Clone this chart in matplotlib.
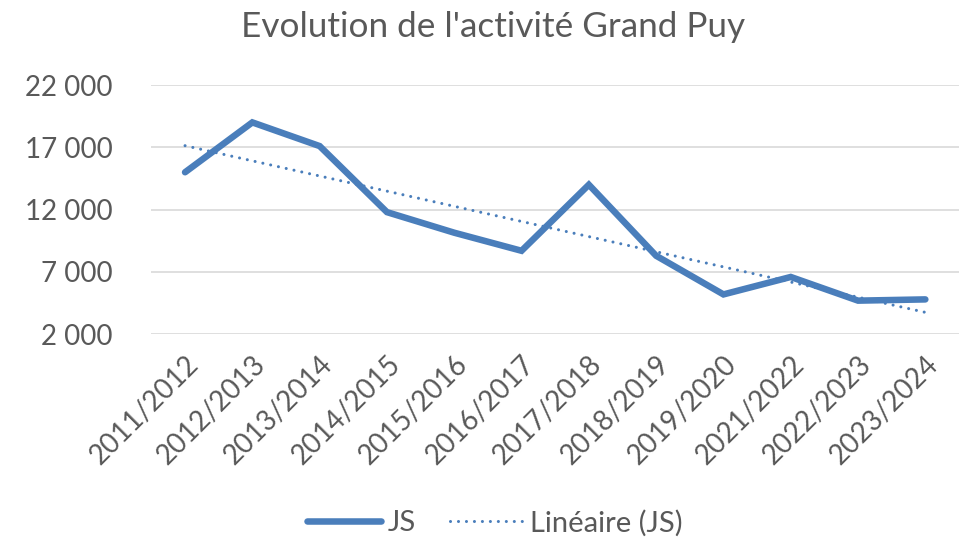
import matplotlib
matplotlib.use("Agg")
import matplotlib.pyplot as plt
import numpy as np
from matplotlib.ticker import FuncFormatter
from matplotlib.lines import Line2D

seasons = ["2011/2012", "2012/2013", "2013/2014", "2014/2015", "2015/2016", "2016/2017",
           "2017/2018", "2018/2019", "2019/2020", "2021/2022", "2022/2023", "2023/2024"]
js_values = [15000, 19000, 17100, 11800, 10150, 8700, 14000, 8300, 5200, 6600, 4700, 4800]
y_ticks = [2000, 7000, 12000, 17000, 22000]

plt.rcParams['font.family'] = ['Lato', 'DejaVu Sans']
text_color = "#595959"
line_color = "#4a7ebb"
dot_style = (0, (0.01, 2.6))

W, H = 961, 548
fig = plt.figure(figsize=(W / 100, H / 100), dpi=100)
ax = fig.add_axes([151.4 / W, 1 - 334.3 / H, (959 - 151.4) / W, (334.3 - 85) / H])

x = np.arange(len(seasons))
y = np.array(js_values, dtype=float)

# linear trend (least squares), like a spreadsheet trendline
slope, intercept = np.polyfit(x, y, 1)
trend = slope * x + intercept

ax.plot(x, y, color=line_color, lw=4.7, solid_capstyle='round', solid_joinstyle='miter', zorder=3)
ax.plot(x, trend, color=line_color, lw=2.2, linestyle=dot_style, dash_capstyle='round', zorder=2)

ax.set_xlim(-0.5, len(seasons) - 0.5)
ax.set_ylim(y_ticks[0], y_ticks[-1])
ax.set_yticks(y_ticks)
ax.yaxis.set_major_formatter(FuncFormatter(lambda v, p: f"{int(v):,}".replace(",", " ")))
ax.grid(axis='y', color='#d9d9d9', lw=1.2)
ax.set_axisbelow(True)
for s in ax.spines.values():
    s.set_visible(False)
ax.tick_params(axis='y', length=0, pad=28, labelsize=20, labelcolor=text_color)
ax.tick_params(axis='x', length=0, pad=12, labelsize=20, labelcolor=text_color)
ax.set_xticks(x)
ax.set_xticklabels(seasons, rotation=45, ha='right', rotation_mode='anchor')

fig.text(493.5 / W, 1 - 27 / H, "Evolution de l'activité Grand Puy", ha='center', va='center',
         fontsize=25.3, color=text_color)

handles = [Line2D([], [], color=line_color, lw=4.7, solid_capstyle='round'),
           Line2D([], [], color=line_color, lw=2.2, linestyle=dot_style, dash_capstyle='round')]
fig.legend(handles, ["JS", "Linéaire (JS)"], loc='center', bbox_to_anchor=(495 / W, 1 - 523 / H),
           ncol=2, frameon=False, fontsize=21, labelcolor=text_color, handlelength=2.55,
           handletextpad=0.22, columnspacing=1.15)

fig.savefig("out.png", dpi=100)
